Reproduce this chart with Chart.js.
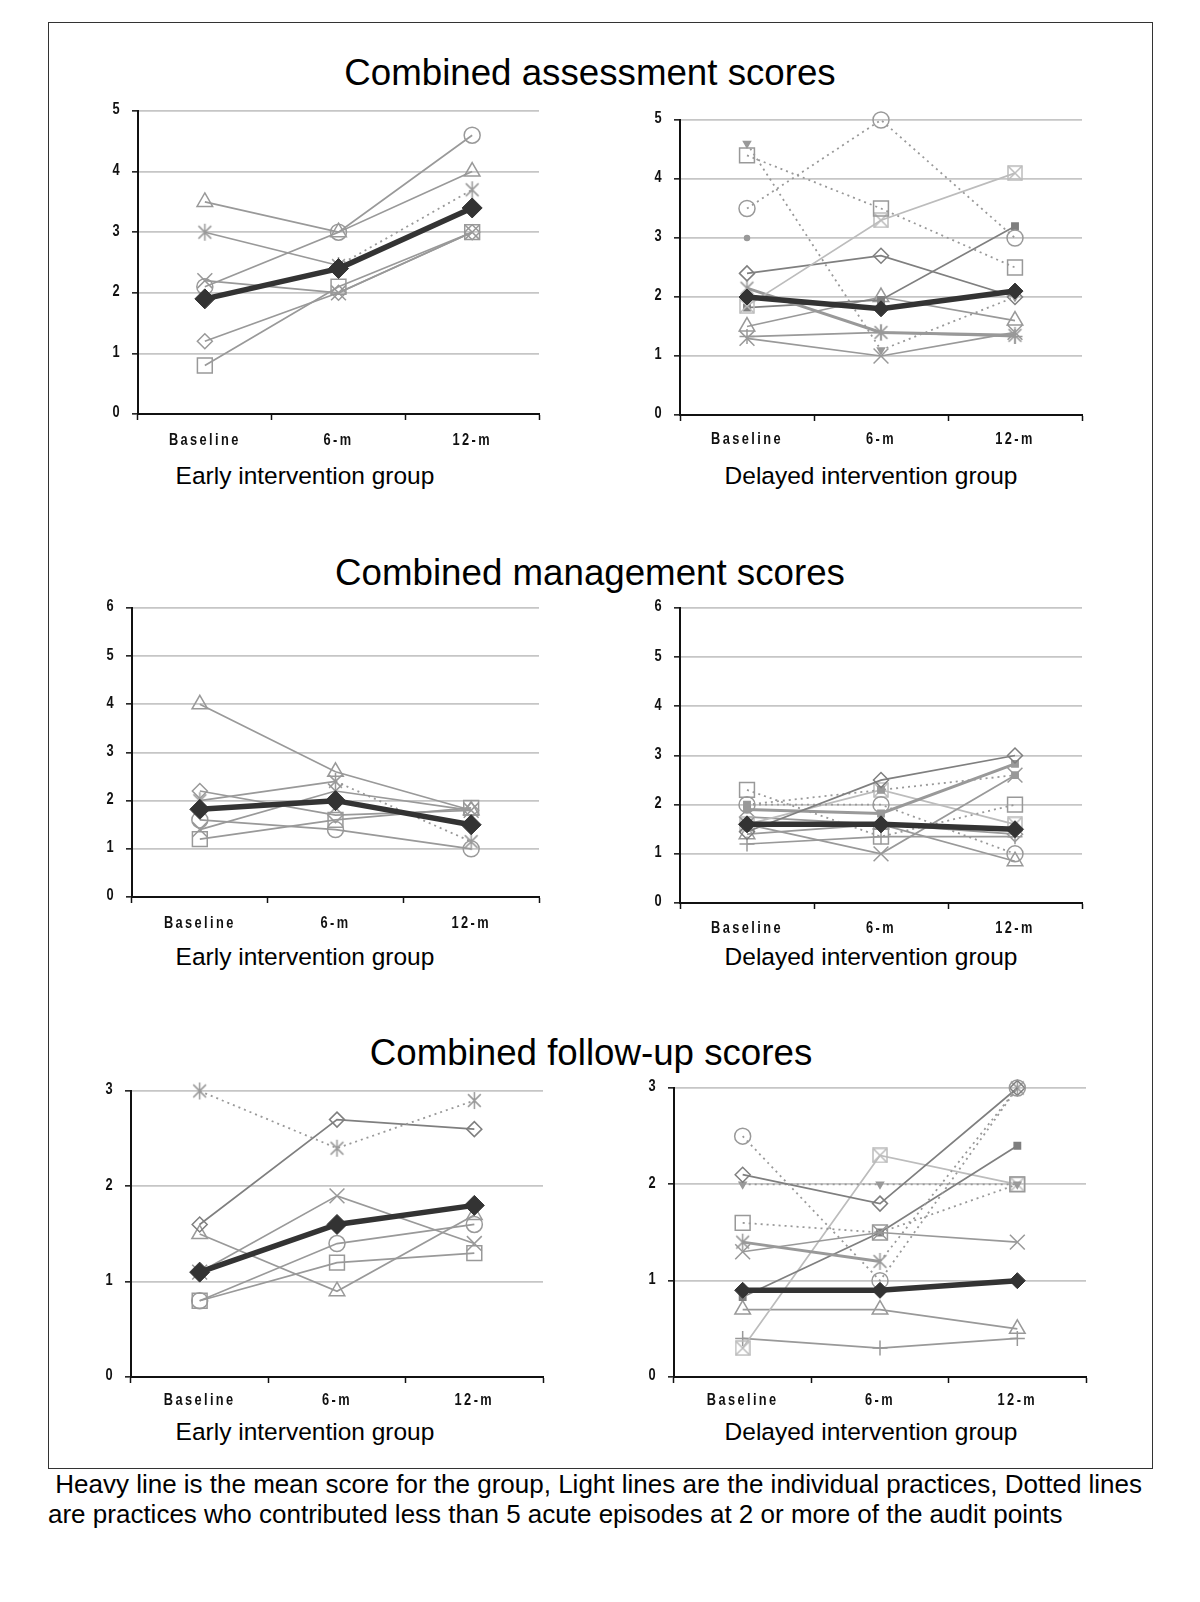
<!DOCTYPE html>
<html>
<head>
<meta charset="utf-8">
<script src="https://cdn.jsdelivr.net/npm/chart.js@4.4.0/dist/chart.umd.min.js"></script>
<style>
  html, body { margin: 0; padding: 0; background: #fff; }
  body { width: 1200px; height: 1602px; position: relative; font-family: "Liberation Sans", Arial, sans-serif; color: #000; }
  .frame { position: absolute; left: 48px; top: 22px; width: 1105px; height: 1447px; border: 1.5px solid #333; box-sizing: border-box; }
  .title { position: absolute; transform: translate(-50%, -50%); font-size: 36.7px; white-space: nowrap; }
  .group { position: absolute; transform: translate(-50%, -50%); font-size: 24.5px; white-space: nowrap; }
  canvas { position: absolute; }
  .note { position: absolute; left: 48px; top: 1470px; font-size: 26px; line-height: 29.6px; white-space: pre; }
</style>
</head>
<body>
<div class="frame"></div>

<div class="title" style="left:590px; top:73px;">Combined assessment scores</div>
<div class="title" style="left:590px; top:573px;">Combined management scores</div>
<div class="title" style="left:591px; top:1053px;">Combined follow-up scores</div>

<div class="group" style="left:305px; top:476px;">Early intervention group</div>
<div class="group" style="left:871px; top:476px;">Delayed intervention group</div>
<div class="group" style="left:305px; top:957px;">Early intervention group</div>
<div class="group" style="left:871px; top:957px;">Delayed intervention group</div>
<div class="group" style="left:305px; top:1432px;">Early intervention group</div>
<div class="group" style="left:871px; top:1432px;">Delayed intervention group</div>

<canvas id="p1"></canvas>
<canvas id="p2"></canvas>
<canvas id="p3"></canvas>
<canvas id="p4"></canvas>
<canvas id="p5"></canvas>
<canvas id="p6"></canvas>

<div class="note"> Heavy line is the mean score for the group, Light lines are the individual practices, Dotted lines
are practices who contributed less than 5 acute episodes at 2 or more of the audit points</div>

<script>
// time points
const categories = ["Baseline", "6-m", "12-m"];

// Combined assessment scores - early group
const asEarlyMean = [1.9, 2.4, 3.4];
const asEarlyTriangle = [3.5, 3.0, 4.0];
const asEarlyCircle = [2.1, 3.0, 4.6];
const asEarlyStar = [3.0, 2.45, 3.7];
const asEarlyCross = [2.2, 2.0, 3.0];
const asEarlyDiamond = [1.2, 2.0, 3.0];
const asEarlySquare = [0.8, 2.1, 3.0];

// Combined assessment scores - delayed group
const asDelayMean = [2.0, 1.8, 2.1];
const asDelayCircle = [3.5, 5.0, 3.0];
const asDelaySquare = [4.4, 3.5, 2.5];
const asDelaySmallTri = [4.6, 1.1, 2.0];
const asDelayDot = [3.0, null, null];
const asDelayBoxX = [1.85, 3.3, 4.1];
const asDelayDiamond = [2.4, 2.7, 2.0];
const asDelayStar = [2.15, 1.4, 1.35];
const asDelaySmallSq = [1.82, 1.95, 3.2];
const asDelayTriangle = [1.5, 2.0, 1.6];
const asDelayCross = [1.3, 1.0, 1.4];
const asDelayPlus = [1.33, 1.4, 1.33];

// Combined management scores - early group
const mgEarlyMean = [1.82, 2.0, 1.5];
const mgEarlyTriangle = [4.0, 2.6, 1.8];
const mgEarlyDiamond = [2.2, 1.7, 1.8];
const mgEarlyStar = [2.0, 2.4, 1.15];
const mgEarlyCircle = [1.6, 1.4, 1.0];
const mgEarlyCross = [1.4, 2.2, 1.8];
const mgEarlySquare = [1.2, 1.6, 1.85];

// Combined management scores - delayed group
const mgDelayMean = [1.6, 1.6, 1.5];
const mgDelayDiamond = [1.45, 2.5, 3.0];
const mgDelaySquare = [2.3, 1.35, 2.0];
const mgDelayCircle = [2.0, 2.0, 1.0];
const mgDelaySmallSqDot = [2.0, 2.3, 2.6];
const mgDelaySmallSq = [1.9, 1.82, 2.83];
const mgDelayCross = [1.6, 1.0, 2.6];
const mgDelayBoxX = [1.6, 2.3, 1.6];
const mgDelayTriangle = [1.4, 1.6, 0.85];
const mgDelayPlus = [1.2, 1.35, 1.35];
const mgDelayDiamond2 = [1.75, 1.6, 1.4];

// Combined follow-up scores - early group
const fuEarlyMean = [1.1, 1.6, 1.8];
const fuEarlyStar = [3.0, 2.4, 2.9];
const fuEarlyDiamond = [1.6, 2.7, 2.6];
const fuEarlyTriangle = [1.5, 0.9, 1.7];
const fuEarlyCross = [1.1, 1.9, 1.4];
const fuEarlyCircle = [0.8, 1.4, 1.6];
const fuEarlySquare = [0.8, 1.2, 1.3];

// Combined follow-up scores - delayed group
const fuDelayMean = [0.9, 0.9, 1.0];
const fuDelayCircle = [2.5, 1.0, 3.0];
const fuDelayDiamond = [2.1, 1.8, 3.0];
const fuDelaySmallTri = [2.0, 2.0, 2.0];
const fuDelaySquare = [1.6, 1.5, 2.0];
const fuDelayStar = [1.4, 1.2, 3.0];
const fuDelayCross = [1.3, 1.5, 1.4];
const fuDelaySmallSq = [0.83, 1.5, 2.4];
const fuDelayBoxX = [0.3, 2.3, 2.0];
const fuDelayTriangle = [0.7, 0.7, 0.5];
const fuDelayPlus = [0.4, 0.3, 0.4];

// ---- drawing setup ----
const YA = 50;   // y axis box width
const XA = 40;   // x axis box height
const PT = 14;   // padding top
const PR = 14;   // padding right
const DOTS = [2, 4];
const tones = { mid: "#999999", light: "#bcbcbc", dark: "#7f7f7f" };

function asteriskMarker(size, color) {
  const c = document.createElement("canvas");
  c.width = c.height = size + 2;
  const g = c.getContext("2d");
  const m = (size + 2) / 2, r = size / 2, d = r * 0.75;
  g.strokeStyle = color;
  g.lineWidth = 1.5;
  g.beginPath();
  g.moveTo(m, m - r); g.lineTo(m, m + r);
  g.moveTo(m - d, m - d); g.lineTo(m + d, m + d);
  g.moveTo(m + d, m - d); g.lineTo(m - d, m + d);
  g.stroke();
  return c;
}

function boxXMarker(size, color) {
  const c = document.createElement("canvas");
  c.width = c.height = size + 2;
  const g = c.getContext("2d");
  const a = 1, b = size + 1;
  g.strokeStyle = color;
  g.lineWidth = 1.5;
  g.strokeRect(a, a, size, size);
  g.beginPath();
  g.moveTo(a, a); g.lineTo(b, b);
  g.moveTo(b, a); g.lineTo(a, b);
  g.stroke();
  return c;
}

function markerStyle(kind, color, meanR) {
  switch (kind) {
    case "mean": return { pointStyle: "rectRot", pointRadius: meanR, pointBackgroundColor: "#333", pointBorderColor: "#333", pointBorderWidth: 1 };
    case "triangle": return { pointStyle: "triangle", pointRadius: 9, pointBackgroundColor: "transparent" };
    case "circle": return { pointStyle: "circle", pointRadius: 8, pointBackgroundColor: "transparent" };
    case "square": return { pointStyle: "rect", pointRadius: 10.5, pointBackgroundColor: "transparent" };
    case "diamond": return { pointStyle: "rectRot", pointRadius: 7.5, pointBackgroundColor: "transparent" };
    case "cross": return { pointStyle: "crossRot", pointRadius: 10.5 };
    case "plus": return { pointStyle: "cross", pointRadius: 7.5 };
    case "star": return { pointStyle: asteriskMarker(17, color), pointRadius: 8 };
    case "boxX": return { pointStyle: boxXMarker(14, color), pointRadius: 7 };
    case "smallSq": return { pointStyle: "rect", pointRadius: 4.5, pointBackgroundColor: color };
    case "dot": return { pointStyle: "circle", pointRadius: 2.5, pointBackgroundColor: color };
    case "smallTri": return { pointStyle: "triangle", pointRadius: 4, pointRotation: 180, pointBackgroundColor: color };
  }
}

const panels = [
  { id: "p1", yMax: 5, box: [138, 539, 111, 414], gap: 27, meanR: 10, series: [
    { data: asEarlyMean, kind: "mean" },
    { data: asEarlyTriangle, kind: "triangle" },
    { data: asEarlyCircle, kind: "circle" },
    { data: asEarlyStar, kind: "star", segs: [false, true] },
    { data: asEarlyCross, kind: "cross" },
    { data: asEarlyDiamond, kind: "diamond" },
    { data: asEarlySquare, kind: "square" },
  ]},
  { id: "p2", yMax: 5, box: [680, 1082, 120, 415], gap: 25, meanR: 8, series: [
    { data: asDelayMean, kind: "mean" },
    { data: asDelayCircle, kind: "circle", dash: true },
    { data: asDelaySquare, kind: "square", dash: true },
    { data: asDelaySmallTri, kind: "smallTri", dash: true },
    { data: asDelayDot, kind: "dot", dash: true },
    { data: asDelayBoxX, kind: "boxX", tone: "light" },
    { data: asDelayDiamond, kind: "diamond", tone: "dark" },
    { data: asDelayStar, kind: "star", width: 3 },
    { data: asDelaySmallSq, kind: "smallSq", tone: "dark" },
    { data: asDelayTriangle, kind: "triangle" },
    { data: asDelayCross, kind: "cross" },
    { data: asDelayPlus, kind: "plus" },
  ]},
  { id: "p3", yMax: 6, box: [132, 539, 608, 897], gap: 27, meanR: 10, series: [
    { data: mgEarlyMean, kind: "mean" },
    { data: mgEarlyTriangle, kind: "triangle" },
    { data: mgEarlyDiamond, kind: "diamond" },
    { data: mgEarlyStar, kind: "star", segs: [false, true] },
    { data: mgEarlyCircle, kind: "circle" },
    { data: mgEarlyCross, kind: "cross" },
    { data: mgEarlySquare, kind: "square" },
  ]},
  { id: "p4", yMax: 6, box: [680, 1082, 608, 903], gap: 26, meanR: 8.5, series: [
    { data: mgDelayMean, kind: "mean" },
    { data: mgDelayDiamond, kind: "diamond", tone: "dark" },
    { data: mgDelaySquare, kind: "square", dash: true },
    { data: mgDelayCircle, kind: "circle", dash: true },
    { data: mgDelaySmallSqDot, kind: "smallSq", dash: true },
    { data: mgDelaySmallSq, kind: "smallSq", width: 3 },
    { data: mgDelayCross, kind: "cross" },
    { data: mgDelayBoxX, kind: "boxX", tone: "light" },
    { data: mgDelayTriangle, kind: "triangle" },
    { data: mgDelayPlus, kind: "plus" },
    { data: mgDelayDiamond2, kind: "diamond" },
  ]},
  { id: "p5", yMax: 3, box: [131, 543, 1091, 1377], gap: 24, meanR: 10, series: [
    { data: fuEarlyMean, kind: "mean" },
    { data: fuEarlyStar, kind: "star", dash: true },
    { data: fuEarlyDiamond, kind: "diamond", tone: "dark" },
    { data: fuEarlyTriangle, kind: "triangle" },
    { data: fuEarlyCross, kind: "cross" },
    { data: fuEarlyCircle, kind: "circle" },
    { data: fuEarlySquare, kind: "square" },
  ]},
  { id: "p6", yMax: 3, box: [674, 1086, 1088, 1377], gap: 24, meanR: 8, series: [
    { data: fuDelayMean, kind: "mean" },
    { data: fuDelayCircle, kind: "circle", dash: true },
    { data: fuDelayDiamond, kind: "diamond", tone: "dark" },
    { data: fuDelaySmallTri, kind: "smallTri", dash: true },
    { data: fuDelaySquare, kind: "square", dash: true },
    { data: fuDelayStar, kind: "star", width: 3, segs: [false, true] },
    { data: fuDelayCross, kind: "cross" },
    { data: fuDelaySmallSq, kind: "smallSq", tone: "dark" },
    { data: fuDelayBoxX, kind: "boxX", tone: "light" },
    { data: fuDelayTriangle, kind: "triangle" },
    { data: fuDelayPlus, kind: "plus" },
  ]},
];

// bold, narrow text drawn through the chart's own scales
function narrowText(ctx, text, x, y, spacing) {
  ctx.save();
  ctx.letterSpacing = spacing;
  ctx.translate(x, y);
  ctx.scale(0.8, 1);
  ctx.fillText(text, 0, 0);
  ctx.restore();
}

// category labels under the x axis (letter-spaced) and condensed y tick numbers
const narrowLabels = {
  id: "narrowLabels",
  afterDraw(chart, args, opts) {
    const { ctx, chartArea, scales } = chart;
    const x = scales.x, y = scales.y;
    ctx.save();
    ctx.fillStyle = "#111";
    ctx.textBaseline = "middle";
    ctx.font = 'bold 16px "Liberation Sans", Arial, sans-serif';
    ctx.textAlign = "center";
    x.getLabels().forEach((lab, i) => {
      narrowText(ctx, lab, x.getPixelForValue(i), chartArea.bottom + opts.gap, "3px");
    });
    ctx.font = 'bold 16px "Liberation Sans", Arial, sans-serif';
    y.ticks.forEach(t => {
      narrowText(ctx, String(t.value), chartArea.left - 22, y.getPixelForValue(t.value) - 1, "0px");
    });
    ctx.restore();
  },
};

function buildDataset(s, meanR) {
  if (s.kind === "mean") {
    return Object.assign({
      data: s.data, borderColor: "#333", borderWidth: 5.5, tension: 0, clip: false,
    }, markerStyle("mean", "#333", meanR));
  }
  const color = tones[s.tone || "mid"];
  const ds = Object.assign({
    data: s.data,
    borderColor: color,
    borderWidth: s.dash ? 1.8 : (s.width || 1.7),
    borderDash: s.dash ? DOTS : [],
    pointBorderColor: color,
    pointBorderWidth: 1.5,
    tension: 0,
    clip: false,
  }, markerStyle(s.kind, color, meanR));
  if (s.segs) {
    ds.segment = {
      borderDash: c => (s.segs[c.p0DataIndex] ? DOTS : undefined),
      borderWidth: c => (s.segs[c.p0DataIndex] ? 1.8 : undefined),
    };
  }
  return ds;
}

panels.forEach(p => {
  const [axisX, rightX, topY, bottomY] = p.box;
  const canvas = document.getElementById(p.id);
  const w = rightX - axisX + YA + PR;
  const h = bottomY - topY + PT + XA;
  canvas.width = w;
  canvas.height = h;
  canvas.style.left = (axisX - YA) + "px";
  canvas.style.top = (topY - PT) + "px";
  canvas.style.width = w + "px";
  canvas.style.height = h + "px";

  new Chart(canvas, {
    type: "line",
    data: {
      labels: categories,
      datasets: p.series.map(s => buildDataset(s, p.meanR)),
    },
    options: {
      responsive: false,
      animation: false,
      devicePixelRatio: 1,
      events: [],
      layout: { padding: { left: 0, top: PT, right: PR, bottom: 0 }, autoPadding: false },
      plugins: {
        legend: { display: false },
        tooltip: { enabled: false },
        narrowLabels: { gap: p.gap },
      },
      scales: {
        x: {
          offset: true,
          grid: { offset: true, drawOnChartArea: false, drawTicks: true, tickLength: 6, tickColor: "#111", tickWidth: 1.5 },
          border: { display: true, color: "#111", width: 2 },
          ticks: { display: false },
          afterFit: s => { s.height = XA; },
        },
        y: {
          min: 0,
          max: p.yMax,
          ticks: { stepSize: 1, display: false },
          grid: {
            color: c => (c.tick && c.tick.value === 0 ? "rgba(0,0,0,0)" : "#c6c6c6"),
            lineWidth: 1.7,
            drawTicks: true,
            tickLength: 6,
            tickColor: "#111",
            tickWidth: 1.5,
          },
          border: { color: "#111", width: 2 },
          afterFit: s => { s.width = YA; },
        },
      },
    },
    plugins: [narrowLabels],
  });
});
</script>
</body>
</html>
